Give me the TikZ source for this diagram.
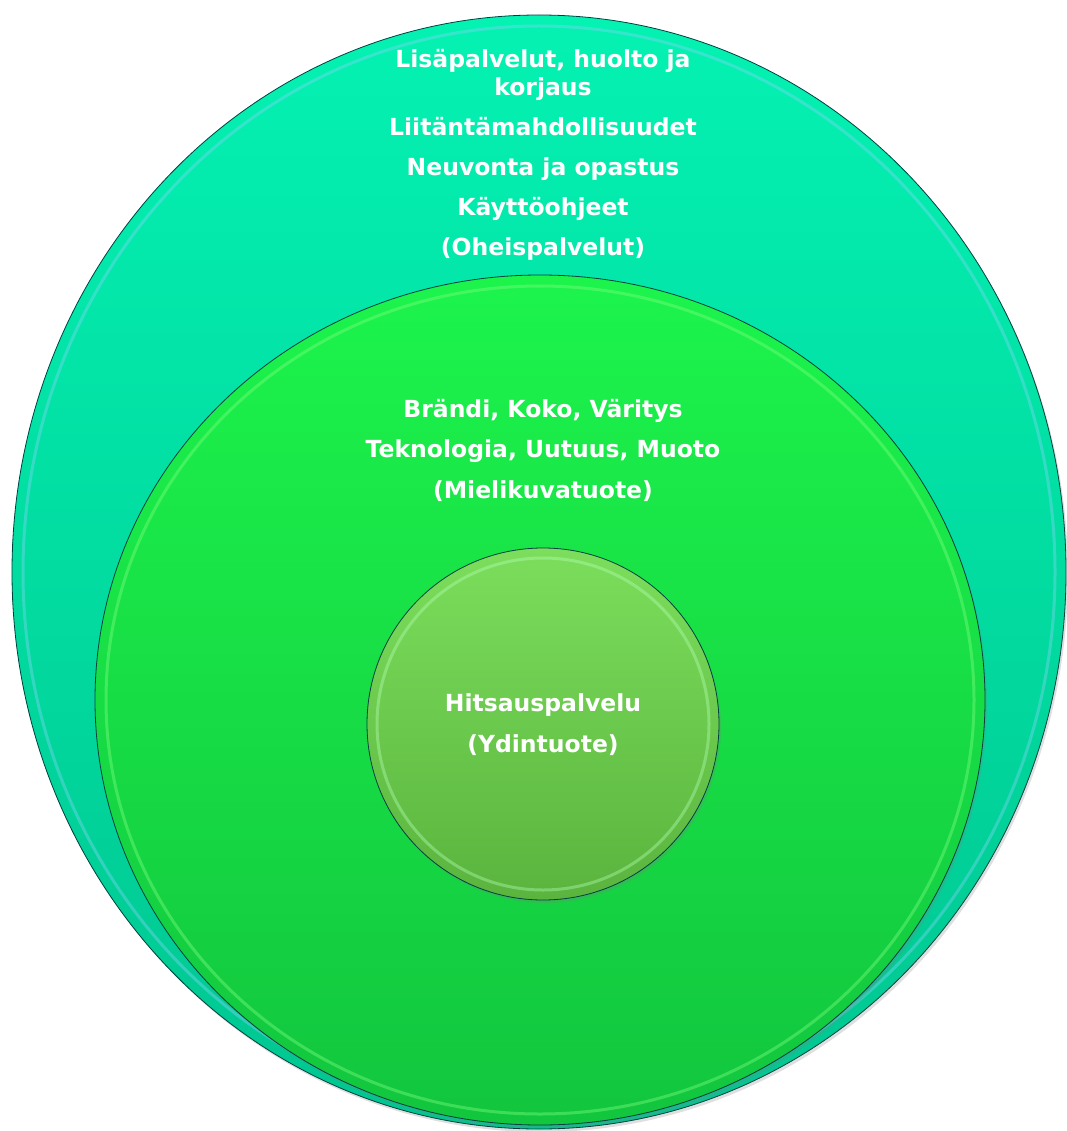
\documentclass[tikz,border=0pt]{standalone}
\usepackage{fontspec}
\setmainfont{DejaVu Sans}
\usetikzlibrary{shapes.geometric,shadows}
\definecolor{tealtop}{HTML}{04F2B2}
\definecolor{tealbot}{HTML}{00C690}
\definecolor{greentop}{HTML}{1CF44C}
\definecolor{greenbot}{HTML}{12C63E}
\definecolor{coretop}{HTML}{7CDE5C}
\definecolor{corebot}{HTML}{5AB43E}
\begin{document}
\begin{tikzpicture}[x=1pt,y=-1pt,
  layer/.style={ellipse,draw=black!50!teal,line width=0.8pt,inner sep=0pt,
    drop shadow={opacity=0.25,shadow xshift=2pt,shadow yshift=-3pt}},
  rim/.style={line width=3pt,opacity=0.4},
  label/.style={text=white,font=\bfseries\fontsize{23.5}{28}\selectfont,align=center}]
\useasboundingbox (0,0) rectangle (1066,1131);
% outer layer
\node[layer,top color=tealtop,bottom color=tealbot,minimum width=1054pt,minimum height=1114pt] (outer) at (539,572) {};
\draw[rim,cyan!50!white] (outer.center) ellipse (516pt and 546pt);
% middle layer
\node[layer,top color=greentop,bottom color=greenbot,minimum width=890pt,minimum height=850pt] (middle) at (540,700) {};
\draw[rim,green!50!white] (middle.center) ellipse (434pt and 414pt);
% core
\node[layer,top color=coretop,bottom color=corebot,minimum width=352pt,minimum height=352pt] (core) at (543,724) {};
\draw[rim,green!30!white] (core.center) circle (166pt);
% texts
\node[label] (outertext) at (543,155) {Lisäpalvelut, huolto ja\\korjaus\\[12pt]
  Liitäntämahdollisuudet\\[12pt] Neuvonta ja opastus\\[12pt] Käyttöohjeet\\[12pt] (Oheispalvelut)};
\node[label] (middletext) at (543,450) {Brändi, Koko, Väritys\\[12pt]
  Teknologia, Uutuus, Muoto\\[13pt] (Mielikuvatuote)};
\node[label] (coretext) at (543,725) {Hitsauspalvelu\\[13pt] (Ydintuote)};
\end{tikzpicture}
\end{document}
